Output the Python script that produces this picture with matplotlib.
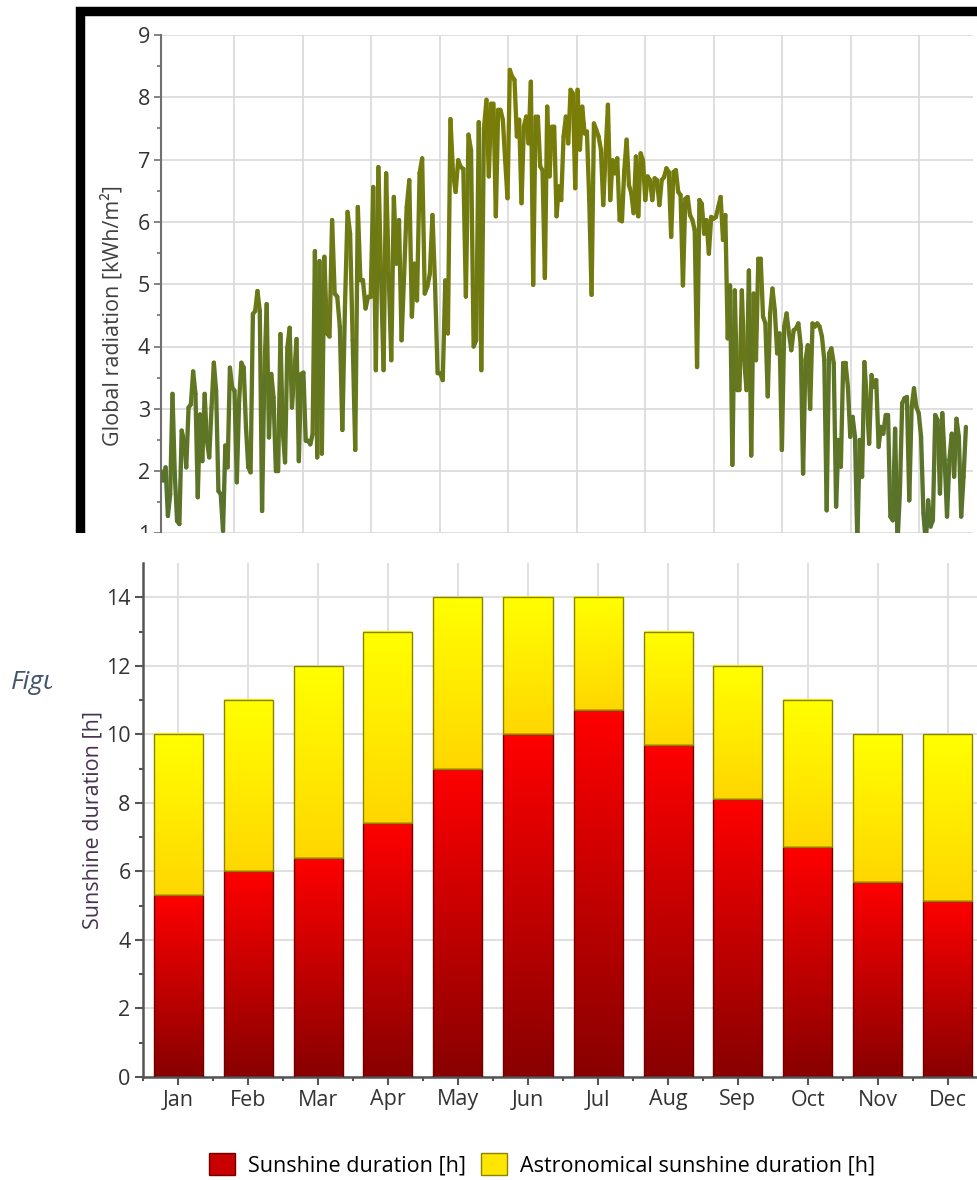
import numpy as np
import matplotlib.pyplot as plt
from matplotlib.collections import LineCollection
from matplotlib.colors import LinearSegmentedColormap
from matplotlib.patches import Rectangle, Patch

plt.rcParams['font.family'] = ['Open Sans', 'DejaVu Sans']

seg_bounds = [-2, 68.4, 140.5, 213.1, 285.3, 350.4]
rad_1 = [2.0, 1.85, 2.06, 1.28, 1.63, 3.24, 1.95, 1.2, 1.15, 2.65, 2.49, 2.06, 3.02, 3.07,
         3.6, 3.24, 1.58, 2.91, 2.16, 3.24, 2.49, 2.22, 3.02, 3.74, 3.29, 1.68, 1.63, 1.04,
         2.41, 2.06, 3.66, 3.34, 3.29, 1.82, 3.13, 3.74, 3.66, 2.70, 2.06, 1.98, 4.52, 4.57,
         4.89, 4.57, 1.36, 3.56, 4.68, 2.54, 3.56, 3.18, 2.0, 2.0, 4.2, 2.65, 2.14, 3.98, 4.3,
         3.02, 3.56, 4.12, 2.16, 3.56, 3.58, 2.49, 2.49, 2.43, 2.59, 5.53, 2.22, 5.37]
rad_2 = [2.28, 5.44, 4.21, 4.16, 6.03, 4.85, 4.80, 4.32, 2.66, 4.64, 6.16, 5.81, 4.10, 2.34,
         6.24, 5.06, 5.06, 4.61, 4.80, 4.80, 6.56, 3.62, 6.88, 5.17, 3.62, 6.78, 5.17, 3.78,
         6.40, 5.33, 6.03, 4.10, 5.17, 6.24, 6.67, 4.48, 5.33, 4.74, 6.78, 7.02, 4.85, 4.96,
         5.17, 6.11, 5.01, 3.57, 3.57, 3.46, 5.06, 4.21, 7.65, 6.78, 6.48, 6.99, 6.88, 6.85,
         4.80, 7.4, 7.15, 4.0, 4.1, 7.6, 3.62, 7.5]
rad_3 = [7.96, 6.73, 7.9, 7.9, 6.09, 7.8, 7.8, 7.64, 6.99, 6.38, 8.44, 8.33, 8.28, 7.37, 7.64,
         6.30, 7.53, 7.69, 7.26, 8.25, 4.99, 7.69, 7.69, 6.89, 6.83, 5.10, 7.85, 6.73, 7.53,
         7.53, 6.09, 6.57, 6.35, 7.37, 7.69, 7.26, 8.12, 8.06, 6.54, 8.12, 7.16, 7.85, 7.42,
         7.45, 6.35, 4.83, 7.58, 7.48, 7.37, 7.16, 6.27, 7.10, 7.88, 6.35, 6.99, 6.78, 7.02,
         6.03, 6.01, 6.83, 7.32, 6.59, 6.46, 6.14, 7.05, 6.09, 7.10, 6.99, 6.35, 6.73, 6.67]
rad_4 = [6.35, 6.70, 6.67, 6.27, 6.67, 6.72, 6.86, 6.80, 5.76, 6.80, 6.83, 6.48, 6.43, 4.98,
         6.37, 6.40, 6.11, 6.03, 5.87, 3.67, 6.35, 6.29, 5.81, 6.03, 5.49, 6.08, 6.05, 6.08,
         6.24, 6.40, 5.71, 6.11, 4.13, 4.98, 2.1, 4.90, 3.30, 3.30, 4.90, 3.78, 3.3, 5.22, 2.25,
         4.85, 3.78, 5.41, 5.41, 4.48, 4.37, 3.2, 4.53, 4.93, 4.58, 3.89, 4.21, 2.34, 4.32, 4.53,
         4.21, 3.94, 4.26, 4.29, 4.37, 4.02, 1.96, 3.78, 4.02, 3.0, 4.37, 4.32]
rad_5 = [4.37, 4.32, 4.16, 3.78, 1.37, 3.89, 3.97, 3.73, 1.43, 2.50, 2.07, 3.73, 3.73, 3.35,
         2.55, 2.87, 2.55, 0.85, 2.50, 1.91, 3.75, 3.14, 2.44, 3.54, 3.35, 3.46, 2.39, 2.71,
         2.60, 2.90, 2.90, 1.27, 1.21, 2.68, 0.85, 1.64, 3.09, 3.17, 3.19, 1.53, 3.03, 3.33,
         3.03, 2.93, 2.55, 1.32, 0.85, 1.53, 1.11, 1.21, 2.90, 2.82, 1.64, 2.93, 2.18, 1.27,
         2.18, 2.60, 1.91, 2.84, 2.55, 1.27, 1.91, 2.71]

# monthly sunshine
months = ['Jan', 'Feb', 'Mar', 'Apr', 'May', 'Jun', 'Jul', 'Aug', 'Sep', 'Oct', 'Nov', 'Dec']
sunshine = [5.3, 6.0, 6.4, 7.4, 9.0, 10.0, 10.7, 9.7, 8.1, 6.7, 5.7, 5.15]
astro = [10, 11, 12, 13, 14, 14, 14, 13, 12, 11, 10, 10]

W, H = 978, 1180
fig = plt.figure(figsize=(9.78, 11.8), dpi=100)


def box(l, t, r, b):
    # pixel box -> figure fraction
    return [l / W, 1 - b / H, (r - l) / W, (b - t) / H]


#___ top: global radiation line ___
ax1 = fig.add_axes(box(161, 35, 973, 595.7), zorder=1)
parts = [rad_1, rad_2, rad_3, rad_4, rad_5]
days = np.concatenate([np.linspace(seg_bounds[i], seg_bounds[i + 1], len(p), endpoint=(i == 4))
                       for i, p in enumerate(parts)])
rad = np.concatenate(parts)
pts = np.column_stack([days, rad])
segs = np.stack([pts[:-1], pts[1:]], axis=1)
olive = LinearSegmentedColormap.from_list('olive', ['#567230', '#7f7f00'])
lc = LineCollection(segs, cmap=olive, norm=plt.Normalize(1, 8.5), linewidth=3.1,
                    capstyle='round', joinstyle='round', zorder=3)
lc.set_array((rad[:-1] + rad[1:]) / 2)
ax1.add_collection(lc)

ax1.set_xlim(-2, 353.5)
ax1.set_ylim(0, 9)
ax1.set_xticks(np.arange(30, 351, 30))
ax1.set_yticks(range(1, 10))
ax1.set_yticks(np.arange(0.5, 9, 1), minor=True)
ax1.tick_params(axis='x', length=0, labelbottom=False)
ax1.tick_params(axis='y', which='major', length=5, width=1.2, color='#707070',
                labelsize=15.5, labelcolor='#333333', pad=3)
ax1.tick_params(axis='y', which='minor', length=3, width=1.2, color='#707070')
ax1.grid(True, color='#d9d9d9', lw=1.2)
for s in ['top', 'right', 'bottom']:
    ax1.spines[s].set_visible(False)
ax1.spines['left'].set_color('#707070')
ax1.spines['left'].set_linewidth(1.5)
ax1.set_ylabel('Global radiation [kWh/m²]', fontsize=15.5, color='#404040', labelpad=10)

# black frame of the screenshot
fig.add_artist(Rectangle((80 / W, 0.3), 1, 1 - 10.5 / H - 0.3, transform=fig.transFigure,
                         fill=False, ec='black', lw=6.8, zorder=2))
fig.text(11 / W, 1 - 689 / H, 'Figure', style='italic', color='#44546a', fontsize=19,
         va='baseline', zorder=3)
fig.add_artist(Rectangle((52 / W, 0), 1, 1 - 533 / H, transform=fig.transFigure,
                         fc='white', ec='none', zorder=4))

#___ bottom: sunshine bars ___
ax2 = fig.add_axes(box(143, 563, 983, 1077), zorder=5)
x = np.arange(len(months))
red_bars = ax2.bar(x, sunshine, width=0.7, color='none', edgecolor='#700000', lw=1, zorder=3)
yel_bars = ax2.bar(x, np.subtract(astro, sunshine), bottom=sunshine, width=0.7, color='none',
                   edgecolor='#8c8400', lw=1, zorder=3)
grad = np.linspace(0, 1, 256).reshape(-1, 1)
red_cmap = LinearSegmentedColormap.from_list('reds', ['#880000', '#ff0000'])
yel_cmap = LinearSegmentedColormap.from_list('yels', ['#ffd700', '#ffff00'])
for bars, cm in [(red_bars, red_cmap), (yel_bars, yel_cmap)]:
    for r in bars:
        x0, y0, w, h = r.get_x(), r.get_y(), r.get_width(), r.get_height()
        ax2.imshow(grad, extent=(x0, x0 + w, y0, y0 + h), origin='lower', cmap=cm,
                   aspect='auto', zorder=2)

ax2.set_xlim(-0.5, 11.5)
ax2.set_ylim(0, 15)
ax2.set_xticks(x, months)
ax2.set_xticks(np.arange(-0.5, 12, 1), minor=True)
ax2.set_yticks(range(0, 15, 2))
ax2.set_yticks(range(1, 15, 2), minor=True)
ax2.set_axisbelow(True)
ax2.grid(True, which='major', color='#e0e0e0', lw=1.5)
for s in ['top', 'right']:
    ax2.spines[s].set_visible(False)
for s in ['left', 'bottom']:
    ax2.spines[s].set_color('#555555')
    ax2.spines[s].set_linewidth(1.8)
ax2.tick_params(which='major', length=6, width=1.5, color='#555555', labelsize=15.5,
                labelcolor='#333333', pad=3)
ax2.tick_params(which='minor', length=3, width=1.5, color='#555555')
ax2.set_ylabel('Sunshine duration [h]', fontsize=15.5, color='#45334f', labelpad=2)

handles = [Patch(facecolor='#c80000', edgecolor='#700000', label='Sunshine duration [h]'),
           Patch(facecolor='#ffe600', edgecolor='#8c8400', label='Astronomical sunshine duration [h]')]
leg = fig.legend(handles=handles, loc='center', bbox_to_anchor=(542 / W, 1 - 1165 / H), ncol=2,
                 frameon=False, fontsize=15.5, handlelength=1.2, handleheight=1.2,
                 handletextpad=0.6, columnspacing=0.7, borderpad=0)
leg.set_zorder(6)

fig.savefig('out.png', dpi=100)
